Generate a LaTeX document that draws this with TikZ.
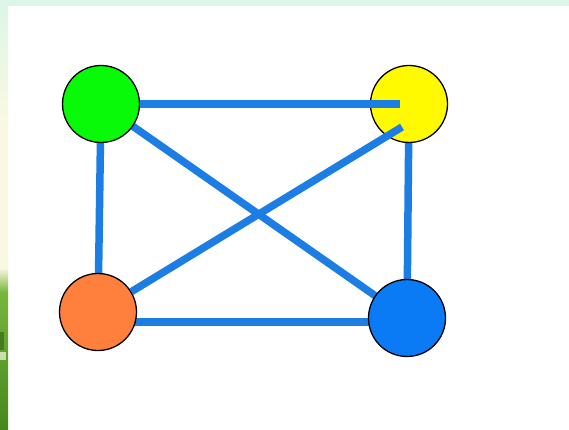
\documentclass[tikz,border=0pt]{standalone}
\begin{document}
\begin{tikzpicture}[x=1pt,y=-1pt,
  vert/.style={circle,draw=black,line width=1.3pt,minimum size=77pt,inner sep=0pt},
  edge/.style={draw=linkblue,line width=7.5pt}]
\definecolor{linkblue}{RGB}{28,126,228}
\definecolor{vgreen}{RGB}{8,250,8}
\definecolor{vyellow}{RGB}{255,250,0}
\definecolor{vorange}{RGB}{255,128,60}
\definecolor{vblue}{RGB}{10,122,245}
\definecolor{mint}{RGB}{220,246,232}
\definecolor{cream}{RGB}{250,248,226}
\definecolor{leaf}{RGB}{120,182,60}
\definecolor{leafdark}{RGB}{70,135,30}
\useasboundingbox (0,0) rectangle (569,430);
\fill[white] (0,0) rectangle (569,430);
% background strips
\fill[mint] (0,0) rectangle (569,6);
\shade[top color=mint,bottom color=cream] (0,0) rectangle (8,120);
\fill[cream] (0,120) rectangle (8,275);
\shade[top color=cream,bottom color=leaf] (0,268) rectangle (8,292);
\shade[top color=leaf,bottom color=leafdark] (0,292) rectangle (8,430);
\fill[leafdark!70!black,opacity=0.6] (0,332) rectangle (4,350);
\fill[cream,opacity=0.7] (0,352) rectangle (6,360);
% node positions
\coordinate (gc) at (101,104);
\coordinate (yc) at (409,104);
\coordinate (oc) at (98,312);
\coordinate (bc) at (407,318);
% edges behind the nodes
\draw[edge] (gc) -- (oc);
\draw[edge] (yc) -- (bc);
\draw[edge] ([yshift=-10pt]oc) -- ([yshift=-4pt]bc);
\draw[edge] (gc) -- (bc);
% nodes
\node[vert,fill=vgreen]  (g) at (gc) {};
\node[vert,fill=vyellow] (y) at (yc) {};
\node[vert,fill=vorange] (o) at (oc) {};
\node[vert,fill=vblue]   (b) at (bc) {};
% edges drawn into the yellow node
\coordinate (yin1) at (400,104);
\coordinate (yin2) at (402,127);
\draw[edge] (g.east) -- (yin1);
\draw[edge] (o) -- (yin2);
\end{tikzpicture}
\end{document}
